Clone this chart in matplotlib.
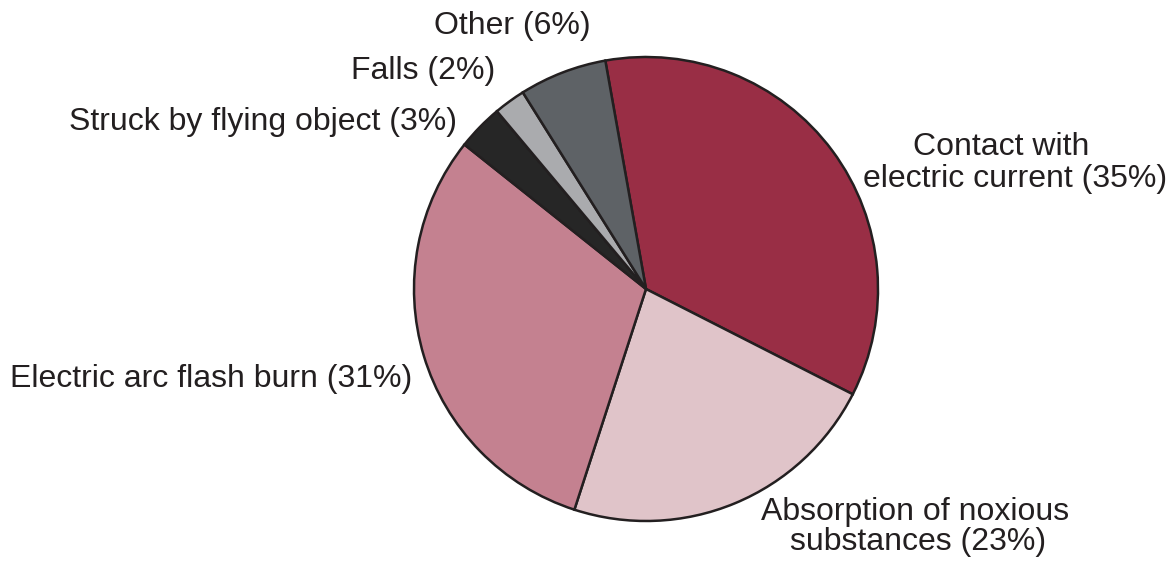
import matplotlib
matplotlib.use("Agg")
import matplotlib.pyplot as plt

categories = ["Contact with electric current", "Absorption of noxious substances",
              "Electric arc flash burn", "Struck by flying object", "Falls", "Other"]
# wedge sizes (labels show rounded values)
shares = [35.3, 22.5, 30.7, 3.2, 2.2, 6.1]
label_lines = [["Contact with", "electric current (35%)"],
               ["Absorption of noxious", "substances (23%)"],
               ["Electric arc flash burn (31%)"],
               ["Struck by flying object (3%)"],
               ["Falls (2%)"],
               ["Other (6%)"]]
colors = ["#992E45", "#E0C4C9", "#C48190", "#262626", "#AAABAE", "#5E6266"]

# pixel anchors (x, baseline y from top) for each text line, with alignment
line_px = [[(1001, 155, "center"), (1015, 187, "center")],
           [(915, 520, "center"), (918, 550, "center")],
           [(10, 387, "left")],
           [(69, 130, "left")],
           [(351, 79, "left")],
           [(434, 34, "left")]]

W, H = 1175, 562
cx, cy, r = 646, 289, 232

plt.rcParams['font.family'] = ['Liberation Sans', 'DejaVu Sans']
fig = plt.figure(figsize=(W / 100, H / 100), dpi=100)
ax = fig.add_axes([(cx - r) / W, (H - cy - r) / H, 2 * r / W, 2 * r / H])

ax.pie(shares, colors=colors, startangle=100.1, counterclock=False,
       wedgeprops=dict(edgecolor="#231F20", linewidth=1.8))
ax.set_xlim(-1, 1)
ax.set_ylim(-1, 1)
ax.axis("off")

for lines, anchors in zip(label_lines, line_px):
    for txt, (px, py, ha) in zip(lines, anchors):
        ax.text((px - cx) / r, (cy - py) / r, txt, ha=ha, va="baseline",
                fontsize=23, color="#231F20", clip_on=False)

for p in ax.patches:
    p.set_clip_on(False)

fig.savefig("out.png", dpi=100, facecolor="white")
